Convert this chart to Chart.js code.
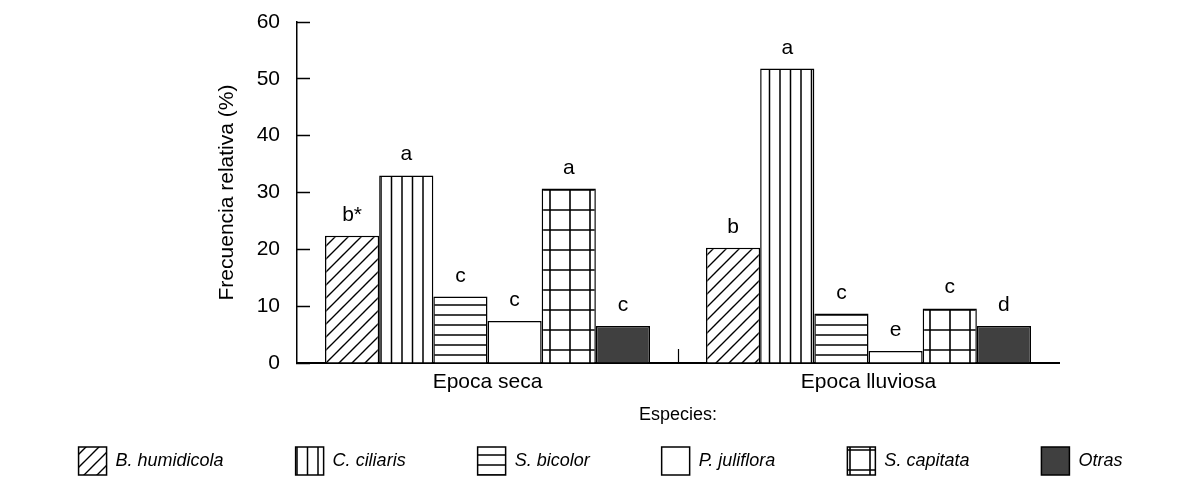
<!DOCTYPE html>
<html>
<head>
<meta charset="utf-8">
<script src="https://cdn.jsdelivr.net/npm/chart.js@4.4.0/dist/chart.umd.min.js"></script>
<style>
  html, body { margin: 0; padding: 0; background: #fff; }
</style>
</head>
<body>
<canvas id="chart" width="1201" height="489"></canvas>
<script>
// categories on the x axis
const categories = ['Epoca seca', 'Epoca lluviosa']
// one series per species (legend order)
const species = ['B. humidicola', 'C. ciliaris', 'S. bicolor', 'P. juliflora', 'S. capitata', 'Otras']
const bHumidicola = [22.4, 20.3]
const cCiliaris = [33.0, 51.8]
const sBicolor = [11.7, 8.7]
const pJuliflora = [7.4, 2.1]
const sCapitata = [30.7, 9.6]
const otras = [6.5, 6.5]
// significance letters above each bar
const lettersBH = ['b*', 'b']
const lettersCC = ['a', 'a']
const lettersSB = ['c', 'c']
const lettersPJ = ['c', 'e']
const lettersSC = ['a', 'c']
const lettersOT = ['c', 'd']
// y axis ticks
const yTicks = [0, 10, 20, 30, 40, 50, 60]

const FONT = "'Liberation Sans', Arial, sans-serif"
Chart.defaults.color = '#000'
Chart.defaults.font.family = FONT

//build a fill pattern on a small tile
function makePattern(kind) {
	const c = document.createElement('canvas')
	const ctx = c.getContext('2d')
	ctx.strokeStyle = '#000'
	if (kind === 'diag') {
		c.width = 13; c.height = 13
		ctx.fillStyle = '#fff'; ctx.fillRect(0, 0, 13, 13)
		ctx.lineWidth = 1.4
		ctx.beginPath()
		ctx.moveTo(-2, 15); ctx.lineTo(15, -2)
		ctx.moveTo(-2, 2); ctx.lineTo(2, -2)
		ctx.moveTo(11, 15); ctx.lineTo(15, 11)
		ctx.stroke()
	} else if (kind === 'vert') {
		c.width = 21; c.height = 10
		ctx.fillStyle = '#fff'; ctx.fillRect(0, 0, 21, 10)
		ctx.lineWidth = 1.5
		ctx.beginPath()
		ctx.moveTo(3, 0); ctx.lineTo(3, 10)
		ctx.moveTo(13.5, 0); ctx.lineTo(13.5, 10)
		ctx.stroke()
	} else if (kind === 'horiz') {
		c.width = 10; c.height = 10
		ctx.fillStyle = '#fff'; ctx.fillRect(0, 0, 10, 10)
		ctx.lineWidth = 1.5
		ctx.beginPath()
		ctx.moveTo(0, 5); ctx.lineTo(10, 5)
		ctx.stroke()
	} else if (kind === 'grid') {
		c.width = 20; c.height = 20
		ctx.fillStyle = '#fff'; ctx.fillRect(0, 0, 20, 20)
		ctx.lineWidth = 1.6
		ctx.beginPath()
		ctx.moveTo(0, 10); ctx.lineTo(20, 10)
		ctx.moveTo(10, 0); ctx.lineTo(10, 20)
		ctx.stroke()
	}
	return ctx.createPattern(c, 'repeat')
}

const seriesValues = [bHumidicola, cCiliaris, sBicolor, pJuliflora, sCapitata, otras]
const seriesLetters = [lettersBH, lettersCC, lettersSB, lettersPJ, lettersSC, lettersOT]
const fills = [makePattern('diag'), makePattern('vert'), makePattern('horiz'), '#ffffff', makePattern('grid'), '#404040']

const datasets = species.map((name, i) => ({
	label: name,
	data: seriesValues[i],
	backgroundColor: fills[i],
	borderColor: '#000',
	borderWidth: 1.5,
	categoryPercentage: 0.853,
	barPercentage: 1.0
}))

//draw the letters above the bars
const letterPlugin = {
	id: 'letters',
	afterDatasetsDraw(chart) {
		const ctx = chart.ctx
		ctx.save()
		ctx.font = '21px ' + FONT
		ctx.fillStyle = '#000'
		ctx.textAlign = 'center'
		ctx.textBaseline = 'alphabetic'
		chart.data.datasets.forEach((ds, i) => {
			const meta = chart.getDatasetMeta(i)
			meta.data.forEach((bar, j) => {
				ctx.fillText(seriesLetters[i][j], bar.x, bar.y - 15)
			})
		})
		ctx.restore()
	}
}

const graph = document.getElementById('chart')
const myChart = new Chart(graph, {
	type: 'bar',
	data: { labels: categories, datasets: datasets },
	plugins: [letterPlugin],
	options: {
		responsive: false,
		animation: false,
		layout: { padding: { top: 22, bottom: 4, left: 0, right: 0 } },
		plugins: {
			tooltip: { enabled: false },
			legend: {
				position: 'bottom',
				align: 'center',
				labels: {
					boxWidth: 28,
					boxHeight: 28,
					padding: 72,
					font: { size: 18, style: 'italic', family: FONT },
					color: '#000'
				}
			}
		},
		scales: {
			x: {
				afterFit(s) { s.height = 12 },
				border: { color: '#000', width: 2 },
				grid: {
					drawOnChartArea: false,
					tickLength: -14,
					tickWidth: 1.2,
					tickColor: c => c.index === 1 ? '#000' : 'rgba(0,0,0,0)'
				},
				// mirrored so the labels are not clipped to the thin axis box
				ticks: { mirror: true, padding: -32, font: { size: 21 }, color: '#000' },
				title: {
					display: true,
					text: 'Especies:',
					font: { size: 18 },
					color: '#000',
					padding: { top: 0, bottom: -51 }
				}
			},
			y: {
				min: 0,
				max: 60,
				afterFit(s) {
					s.width = 297
					s.paddingTop = 0
					s.paddingBottom = 0
				},
				afterBuildTicks(s) { s.ticks = yTicks.map(v => ({ value: v })) },
				border: { color: '#000', width: 1.5 },
				grid: {
					drawOnChartArea: false,
					tickLength: -13,
					tickWidth: 1.5,
					tickColor: '#000'
				},
				ticks: { padding: 30, font: { size: 21 }, color: '#000' },
				title: {
					display: true,
					text: 'Frecuencia relativa (%)',
					font: { size: 21 },
					color: '#000',
					padding: { top: 215, bottom: 0 }
				}
			},
			// empty axis that only keeps the right margin free
			yRight: {
				position: 'right',
				afterFit(s) { s.width = 142 },
				ticks: { display: false },
				grid: { display: false },
				border: { display: false }
			}
		}
	}
})
</script>
</body>
</html>
